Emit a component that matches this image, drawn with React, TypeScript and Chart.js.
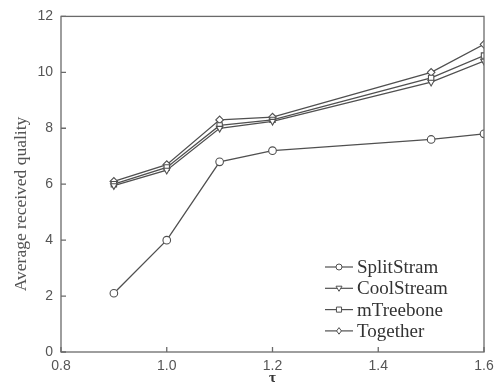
import React, { useEffect, useRef } from "react";
import { Chart, registerables } from "chart.js";
Chart.register(...registerables);

const tauValues = [0.9, 1.0, 1.1, 1.2, 1.5, 1.6];
const splitStram = [2.1, 4.0, 6.8, 7.2, 7.6, 7.8];
const coolStream = [5.95, 6.5, 8.0, 8.25, 9.65, 10.4];
const mTreebone = [6.0, 6.6, 8.1, 8.3, 9.8, 10.6];
const together = [6.1, 6.7, 8.3, 8.4, 10.0, 11.0];
const seriesNames = ["SplitStram", "CoolStream", "mTreebone", "Together"];
const pointStyles = ["circle", "triangle", "rect", "rectRot"];
const xTicks = [0.8, 1.0, 1.2, 1.4, 1.6];
const yTicks = [0, 2, 4, 6, 8, 10, 12];
const xTitle = "τ";
const yTitle = "Average received quality";

const LINE = "#505050";
const AXIS = "#6a6a6a";

function drawMarker(ctx: CanvasRenderingContext2D, style: string, x: number, y: number, r: number) {
  ctx.beginPath();
  if (style === "circle") {
    ctx.arc(x, y, r, 0, Math.PI * 2);
  } else if (style === "triangle") {
    ctx.moveTo(x - r, y - r * 0.7);
    ctx.lineTo(x + r, y - r * 0.7);
    ctx.lineTo(x, y + r);
    ctx.closePath();
  } else if (style === "rect") {
    ctx.rect(x - r * 0.85, y - r * 0.85, r * 1.7, r * 1.7);
  } else {
    ctx.moveTo(x, y - r * 1.1);
    ctx.lineTo(x + r * 0.8, y);
    ctx.lineTo(x, y + r * 1.1);
    ctx.lineTo(x - r * 0.8, y);
    ctx.closePath();
  }
  ctx.fillStyle = "#ffffff";
  ctx.fill();
  ctx.stroke();
}

const framePlugin = {
  id: "framePlugin",
  afterDraw(chart: any) {
    const { ctx, chartArea, scales } = chart;
    const { left, right, top, bottom } = chartArea;
    ctx.save();
    ctx.strokeStyle = AXIS;
    ctx.lineWidth = 1.3;
    ctx.strokeRect(left, top, right - left, bottom - top);
    // inward ticks
    ctx.beginPath();
    xTicks.forEach((v) => {
      const px = scales.x.getPixelForValue(v);
      ctx.moveTo(px, bottom);
      ctx.lineTo(px, bottom - 5);
    });
    yTicks.forEach((v) => {
      const py = scales.y.getPixelForValue(v);
      ctx.moveTo(left, py);
      ctx.lineTo(left + 5, py);
    });
    ctx.stroke();
    // titles
    ctx.fillStyle = "#555555";
    ctx.font = "17.5px 'Liberation Serif', serif";
    ctx.textAlign = "center";
    ctx.textBaseline = "middle";
    ctx.save();
    ctx.translate(21, 204);
    ctx.rotate(-Math.PI / 2);
    ctx.fillText(yTitle, 0, 0);
    ctx.restore();
    ctx.fillStyle = "#333333";
    ctx.font = "bold 15px 'Liberation Serif', serif";
    ctx.fillText(xTitle, (left + right) / 2, 378);
    // legend
    ctx.font = "19px 'Liberation Serif', serif";
    ctx.textAlign = "left";
    ctx.textBaseline = "middle";
    seriesNames.forEach((name, i) => {
      const y = 267 + i * 21.3;
      ctx.strokeStyle = LINE;
      ctx.lineWidth = 1.2;
      ctx.beginPath();
      ctx.moveTo(325, y);
      ctx.lineTo(353, y);
      ctx.stroke();
      ctx.lineWidth = 1;
      drawMarker(ctx, pointStyles[i], 339, y, 3);
      ctx.fillStyle = "#333333";
      ctx.fillText(name, 357, y + 1);
    });
    ctx.restore();
  },
};

export default function App() {
  const ref = useRef<HTMLCanvasElement | null>(null);
  useEffect(() => {
    if (!ref.current) return;
    const all = [splitStram, coolStream, mTreebone, together];
    const chart = new Chart(ref.current, {
      type: "line",
      data: {
        datasets: all.map((vals, i) => ({
          label: seriesNames[i],
          data: tauValues.map((t, j) => ({ x: t, y: vals[j] })),
          borderColor: LINE,
          borderWidth: 1.3,
          pointStyle: pointStyles[i] as any,
          pointRotation: i === 1 ? 180 : 0,
          pointRadius: 3.8,
          pointBorderWidth: 1.1,
          pointBackgroundColor: "#ffffff",
          pointBorderColor: LINE,
          tension: 0,
          fill: false,
        })),
      },
      options: {
        animation: false,
        responsive: false,
        maintainAspectRatio: false,
        layout: { padding: { top: 15, right: 18, left: 0, bottom: 0 } },
        plugins: { legend: { display: false }, tooltip: { enabled: false } },
        scales: {
          x: {
            type: "linear",
            min: 0.8,
            max: 1.6,
            afterBuildTicks: (s: any) => {
              s.ticks = xTicks.map((v) => ({ value: v }));
            },
            afterFit: (s: any) => {
              s.height = 38;
            },
            grid: { display: false, drawTicks: false },
            border: { display: false },
            ticks: {
              padding: 6,
              color: "#555555",
              font: { family: "'Liberation Sans', Arial, sans-serif", size: 14 },
              callback: (v: any) => Number(v).toFixed(1),
              maxRotation: 0,
            },
          },
          y: {
            type: "linear",
            min: 0,
            max: 12,
            afterBuildTicks: (s: any) => {
              s.ticks = yTicks.map((v) => ({ value: v }));
            },
            afterFit: (s: any) => {
              s.width = 61;
            },
            grid: { display: false, drawTicks: false },
            border: { display: false },
            ticks: {
              padding: 8,
              color: "#555555",
              font: { family: "'Liberation Sans', Arial, sans-serif", size: 14 },
            },
          },
        },
      },
      plugins: [framePlugin],
    });
    return () => chart.destroy();
  }, []);
  return (
    <div style={{ position: "fixed", left: 0, top: 0, width: 502, height: 390, background: "#fff" }}>
      <canvas ref={ref} width={502} height={390} style={{ width: 502, height: 390 }} />
    </div>
  );
}
